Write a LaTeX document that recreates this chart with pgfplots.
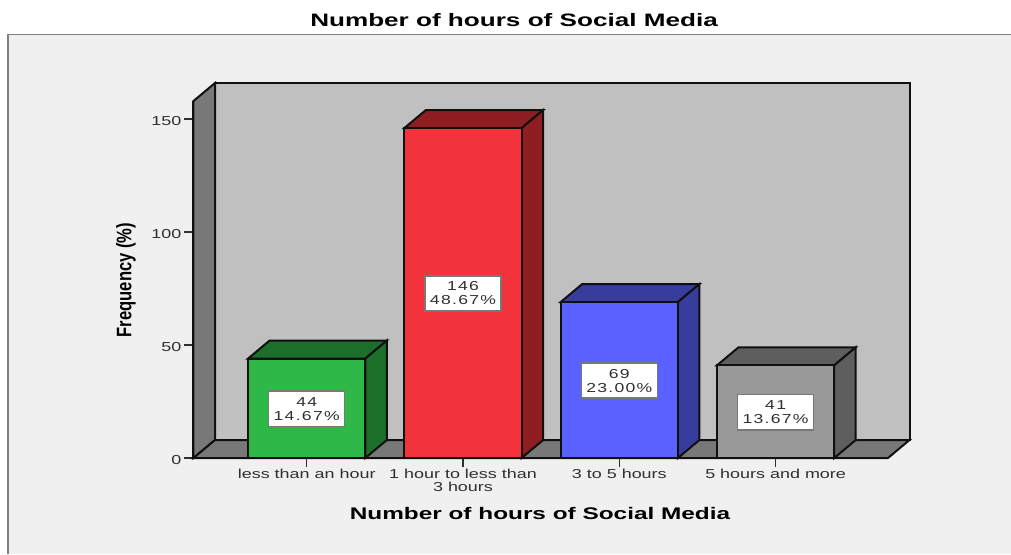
\documentclass[border=0pt]{standalone}
\usepackage{fontspec}
\usepackage{pgfplots}
\pgfplotsset{compat=1.18}
\setmainfont{Liberation Sans}
\newfontfamily\tickfont[FakeStretch=1.38]{Liberation Sans}
\newfontfamily\boxfont[FakeStretch=1.35,LetterSpace=10]{Liberation Sans}
\newfontfamily\headfont[FakeStretch=1.45]{Liberation Sans}
\newfontfamily\narrowfont[FakeStretch=0.79]{Liberation Sans}
\definecolor{panelbg}{HTML}{F0F0F0}
\definecolor{framec}{HTML}{808080}
\definecolor{wallc}{HTML}{787878}
\definecolor{backc}{HTML}{C0C0C0}
\definecolor{edgec}{HTML}{101010}
\definecolor{labc}{HTML}{303030}
\definecolor{greenf}{HTML}{2EB848}\definecolor{greens}{HTML}{1C6E2B}
\definecolor{redf}{HTML}{F2333B}\definecolor{reds}{HTML}{8E1E22}
\definecolor{bluef}{HTML}{5961FF}\definecolor{blues}{HTML}{383C9C}
\definecolor{grayf}{HTML}{999999}\definecolor{grays}{HTML}{5E5E5E}
\begin{document}
\begin{tikzpicture}
% page and chart panel
\useasboundingbox (-193.5pt,-96pt) rectangle (817.5pt,458pt);
\fill[white] (-193.5pt,-96pt) rectangle (817.5pt,458pt);
\fill[panelbg] (-185.5pt,-96pt) rectangle (817.5pt,423.5pt);
\draw[framec,line width=1.6pt] (-185.5pt,-96pt) -- (-185.5pt,423.5pt) -- (817.5pt,423.5pt);
\begin{axis}[
  scale only axis, width=694.5pt, height=357pt,
  xmin=-0.7242, xmax=3.7191, ymin=0, ymax=157.96,
  clip=false,
  axis x line=bottom, axis y line=left,
  axis line style={-, edgec, line width=2pt},
  tick align=outside,
  major tick length=9pt,
  xtick={0,1,2,3},
  xticklabels={less than an hour,{1 hour to less than\\3 hours},3 to 5 hours,5 hours and more},
  ytick={0,50,100,150},
  tick style={labc, line width=1.4pt},
  /pgf/number format/assume math mode=true,
  x tick label style={font=\tickfont\fontsize{13}{13}\selectfont, text=labc, align=center, inner sep=0pt, yshift=-2pt},
  y tick label style={font=\tickfont\fontsize{13}{13}\selectfont, text=labc, inner sep=2pt, xshift=-1pt, yshift=-2pt},
  every axis title shift=0pt,
  title={Number of hours of Social Media},
  title style={at={(axis description cs:0.4615,1.2269)}, anchor=center, inner sep=0pt, font=\headfont\bfseries\fontsize{18}{18}\selectfont},
  xlabel={Number of hours of Social Media},
  xlabel style={at={(axis description cs:0.4989,-0.1568)}, anchor=center, inner sep=0pt, font=\headfont\bfseries\fontsize{16.8}{17}\selectfont},
  ylabel={Frequency (\%)},
  ylabel style={at={(axis description cs:-0.0972,0.4986)}, anchor=center, rotate=0, inner sep=0pt, font=\narrowfont\bfseries\fontsize{21}{21}\selectfont},
  every axis plot/.append style={line width=2pt, draw=edgec, line join=miter},
]
% back wall, left wall, floor
\addplot[fill=backc, draw=edgec] coordinates {(-0.5866,7.96) (-0.5866,165.92) (3.8567,165.92) (3.8567,7.96)} -- cycle;
\addplot[fill=wallc, draw=edgec] coordinates {(-0.7242,0) (-0.7242,157.96) (-0.5866,165.92) (-0.5866,7.96)} -- cycle;
\addplot[fill=wallc, draw=edgec] coordinates {(-0.7242,0) (3.7191,0) (3.8567,7.96) (-0.5866,7.96)} -- cycle;
% less than an hour: 44
\addplot[fill=greens] coordinates {(-0.375,44) (-0.2374,51.96) (0.5126,51.96) (0.375,44)} -- cycle;
\addplot[fill=greens] coordinates {(0.375,0) (0.375,44) (0.5126,51.96) (0.5126,7.96)} -- cycle;
\addplot[fill=greenf] coordinates {(-0.375,0) (-0.375,44) (0.375,44) (0.375,0)} -- cycle;
% 1 hour to less than 3 hours: 146
\addplot[fill=reds] coordinates {(0.625,146) (0.7626,153.96) (1.5126,153.96) (1.375,146)} -- cycle;
\addplot[fill=reds] coordinates {(1.375,0) (1.375,146) (1.5126,153.96) (1.5126,7.96)} -- cycle;
\addplot[fill=redf] coordinates {(0.625,0) (0.625,146) (1.375,146) (1.375,0)} -- cycle;
% 3 to 5 hours: 69
\addplot[fill=blues] coordinates {(1.625,69) (1.7626,76.96) (2.5126,76.96) (2.375,69)} -- cycle;
\addplot[fill=blues] coordinates {(2.375,0) (2.375,69) (2.5126,76.96) (2.5126,7.96)} -- cycle;
\addplot[fill=bluef] coordinates {(1.625,0) (1.625,69) (2.375,69) (2.375,0)} -- cycle;
% 5 hours and more: 41
\addplot[fill=grays] coordinates {(2.625,41) (2.7626,48.96) (3.5126,48.96) (3.375,41)} -- cycle;
\addplot[fill=grays] coordinates {(3.375,0) (3.375,41) (3.5126,48.96) (3.5126,7.96)} -- cycle;
\addplot[fill=grayf] coordinates {(2.625,0) (2.625,41) (3.375,41) (3.375,0)} -- cycle;
% count and share, centred on each bar's height
\addplot[draw=none, mark=none, point meta=explicit symbolic,
  nodes near coords,
  every node near coord/.append style={
    anchor=center, fill=white, draw=wallc, line width=1.6pt, align=center,
    minimum width=76pt, minimum height=35.5pt, inner sep=0pt, text=labc, yshift=-0.5pt,
    font=\boxfont\fontsize{13}{14}\selectfont}]
  coordinates {(0,22) [44\\14.67\%] (1,73) [146\\48.67\%] (2,34.5) [69\\23.00\%] (3,20.5) [41\\13.67\%]};
\end{axis}
\end{tikzpicture}
\end{document}
